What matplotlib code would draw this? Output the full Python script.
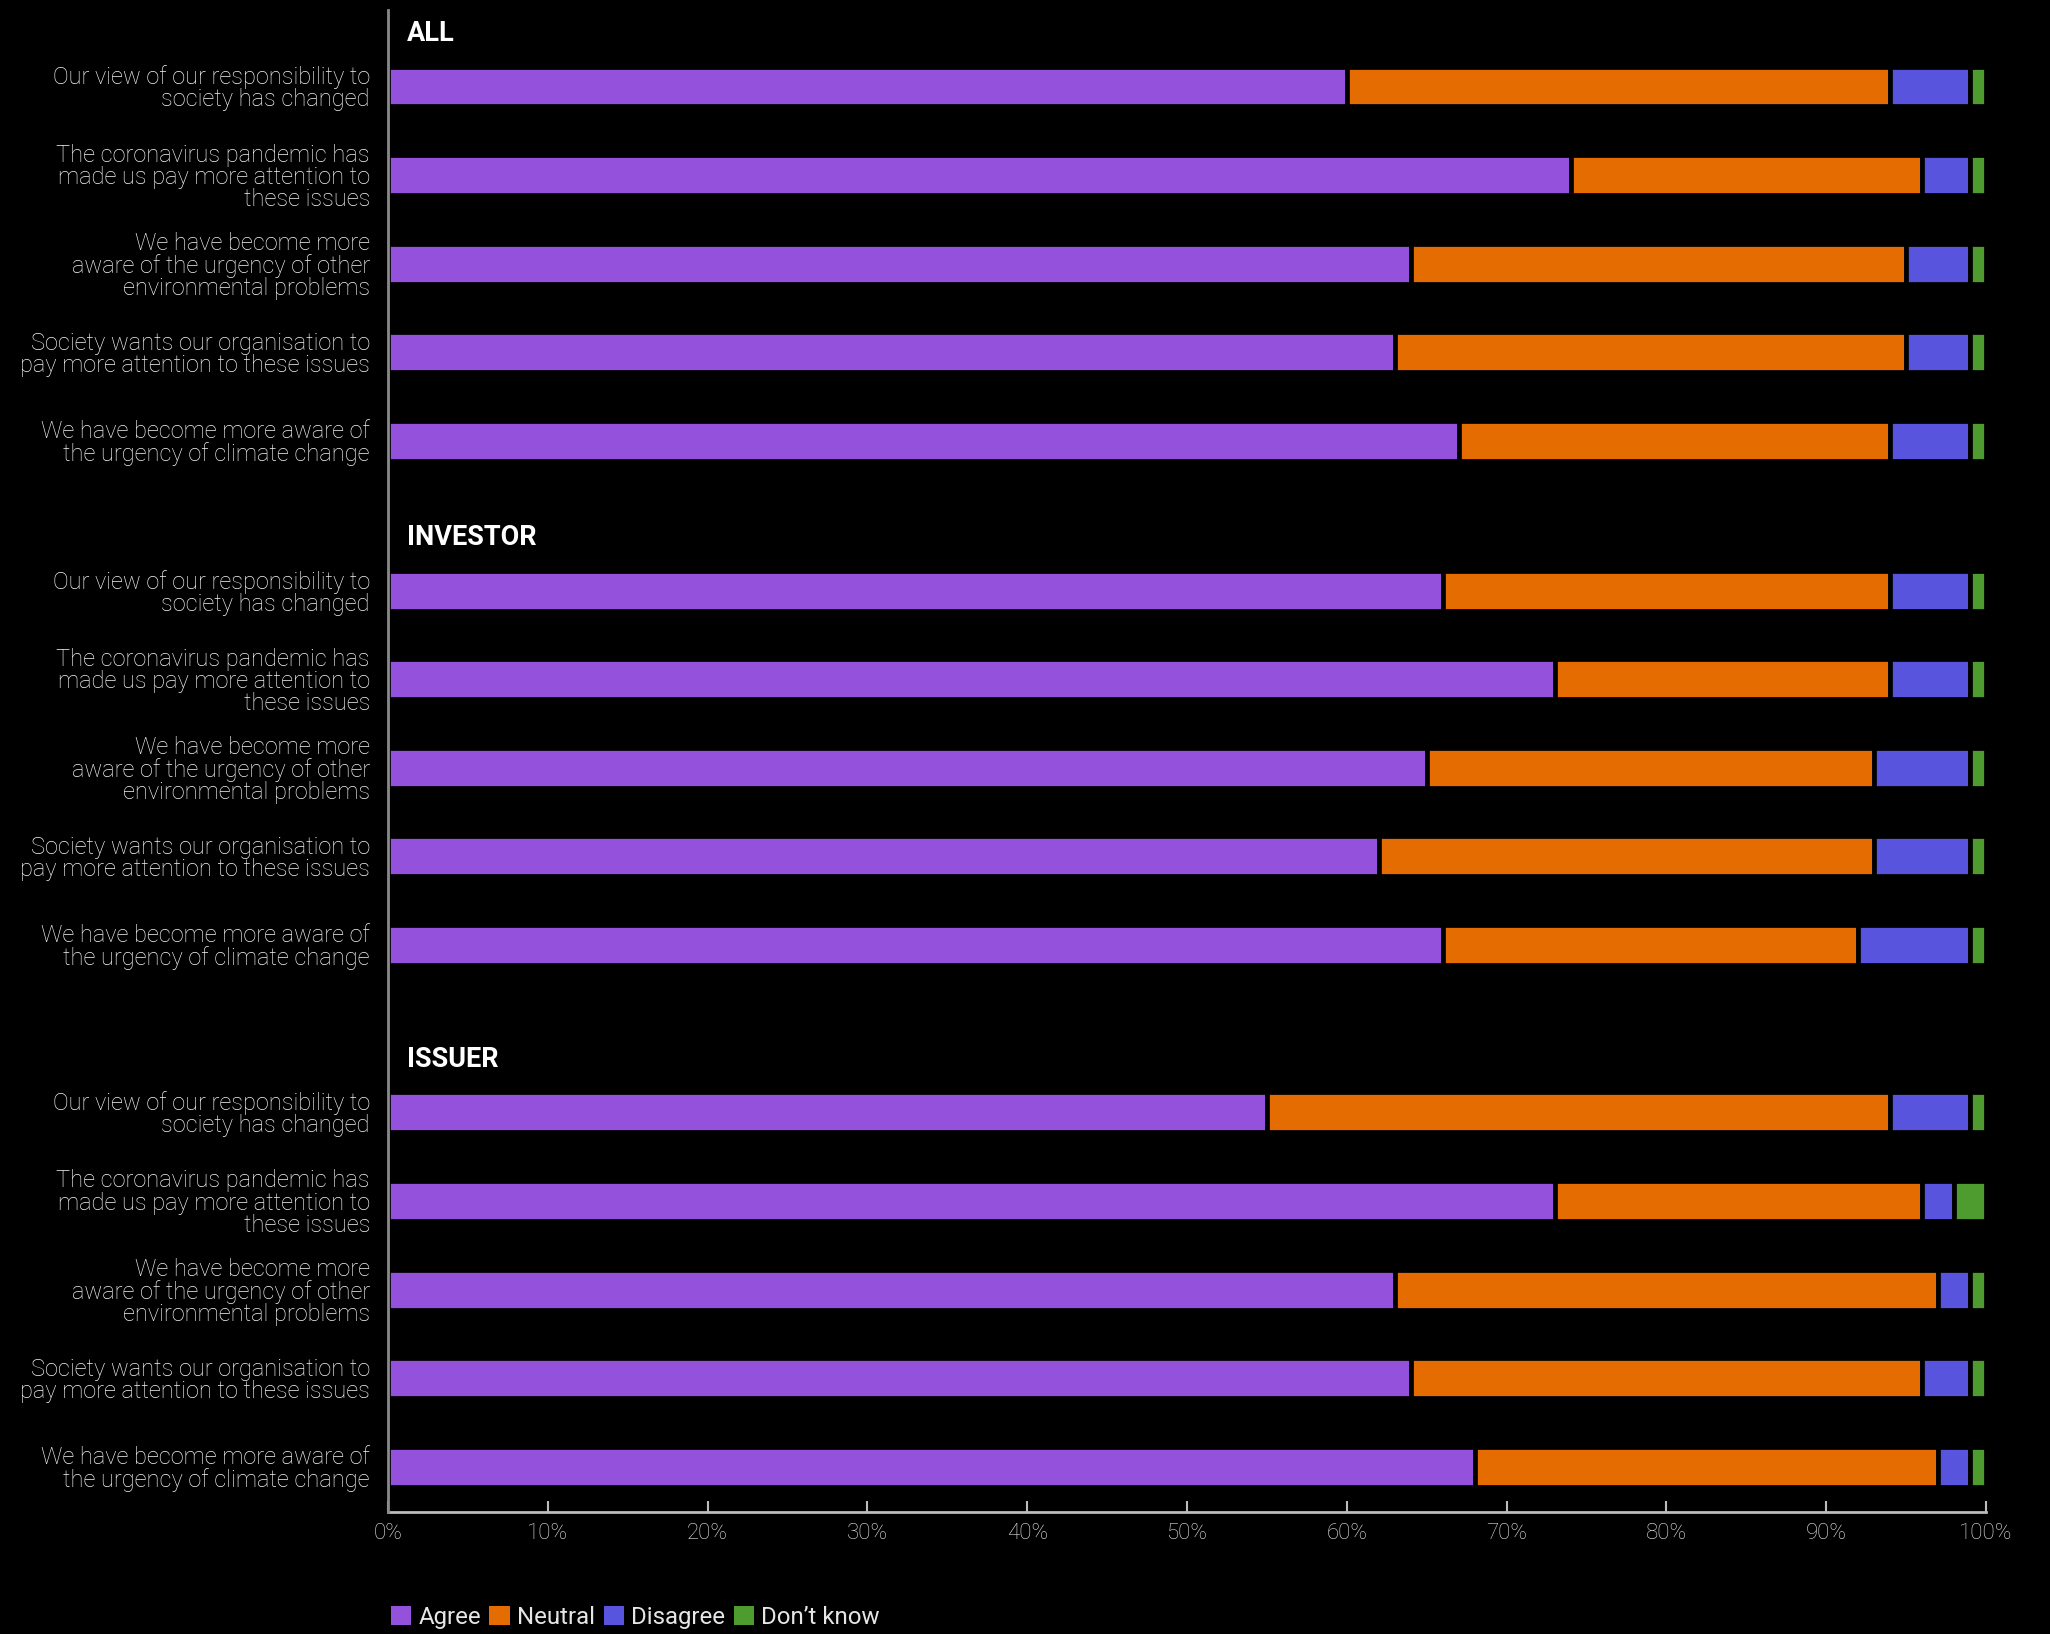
import matplotlib
matplotlib.use('Agg')
import matplotlib.pyplot as plt
from matplotlib.patches import Patch

plt.rcParams['font.family'] = ['Liberation Sans Narrow', 'Roboto', 'DejaVu Sans']

groups = ['ALL', 'INVESTOR', 'ISSUER']
statements = [
    'Our view of our responsibility to\nsociety has changed',
    'The coronavirus pandemic has\nmade us pay more attention to\nthese issues',
    'We have become more\naware of the urgency of other\nenvironmental problems',
    'Society wants our organisation to\npay more attention to these issues',
    'We have become more aware of\nthe urgency of climate change',
]
responses = ['Agree', 'Neutral', 'Disagree', 'Don’t know']

# share of respondents (%) per statement, in the order of `statements`
agree_all = [60, 74, 64, 63, 67]
neutral_all = [34, 22, 31, 32, 27]
disagree_all = [5, 3, 4, 4, 5]
dontknow_all = [1, 1, 1, 1, 1]

agree_investor = [66, 73, 65, 62, 66]
neutral_investor = [28, 21, 28, 31, 26]
disagree_investor = [5, 5, 6, 6, 7]
dontknow_investor = [1, 1, 1, 1, 1]

agree_issuer = [55, 73, 63, 64, 68]
neutral_issuer = [39, 23, 34, 32, 29]
disagree_issuer = [5, 2, 2, 3, 2]
dontknow_issuer = [1, 2, 1, 1, 1]

data = {
    'ALL': [agree_all, neutral_all, disagree_all, dontknow_all],
    'INVESTOR': [agree_investor, neutral_investor, disagree_investor, dontknow_investor],
    'ISSUER': [agree_issuer, neutral_issuer, disagree_issuer, dontknow_issuer],
}

colors = ['#9452DC', '#E56C00', '#5854DE', '#4E9B30']
group_start = {'ALL': 0.0, 'INVESTOR': 5.69, 'ISSUER': 11.58}

fig = plt.figure(figsize=(20.5, 16.34), dpi=100, facecolor='black')
ax = fig.add_axes([388 / 2050, 1 - 1512 / 1634, 1598 / 2050, 1502 / 1634])
ax.set_facecolor('black')

yticks, ylabels = [], []
for g in groups:
    ys = [group_start[g] + i for i in range(len(statements))]
    left = [0] * len(ys)
    for series, col in zip(data[g], colors):
        ax.barh(ys, series, left=left, height=0.45, color=col,
                edgecolor='black', linewidth=3.4, zorder=2)
        left = [a + b for a, b in zip(left, series)]
    ax.text(1.2, group_start[g] - 0.6, g, color='white', fontsize=19.5,
            fontweight='bold', va='center', ha='left')
    yticks += ys
    ylabels += statements

ax.set_xlim(0, 100)
ax.set_ylim(16.09, -0.863)
ax.set_yticks(yticks)
ax.set_yticklabels(ylabels, fontsize=17, color='#F4F4F4', linespacing=0.95,
                   fontweight='light')
ax.tick_params(axis='y', length=0, pad=13)
ax.set_xticks(range(0, 101, 10))
ax.set_xticklabels([f'{v}%' for v in range(0, 101, 10)], fontsize=16,
                   color='#E6E6E6', fontweight='light')
ax.tick_params(axis='x', direction='in', length=8, width=1.5, color='#BBBBBB', pad=8)

for s in ['top', 'right']:
    ax.spines[s].set_visible(False)
ax.spines['left'].set_color('#8A8A8A')
ax.spines['left'].set_linewidth(2)
ax.spines['bottom'].set_color('#BBBBBB')
ax.spines['bottom'].set_linewidth(2)
ax.spines['left'].set_zorder(3)

handles = [Patch(facecolor=c, edgecolor='none') for c in colors]
fig.legend(handles, responses, loc='lower left', bbox_to_anchor=(386 / 2050, 0.0),
           ncol=4, frameon=False, labelcolor='#E6E6E6',
           prop={'size': 17.3},
           handlelength=0.85, handleheight=0.85, handletextpad=0.3,
           columnspacing=0.35, borderpad=0.2, borderaxespad=0.0)

fig.savefig('out.png', dpi=100, facecolor='black')
